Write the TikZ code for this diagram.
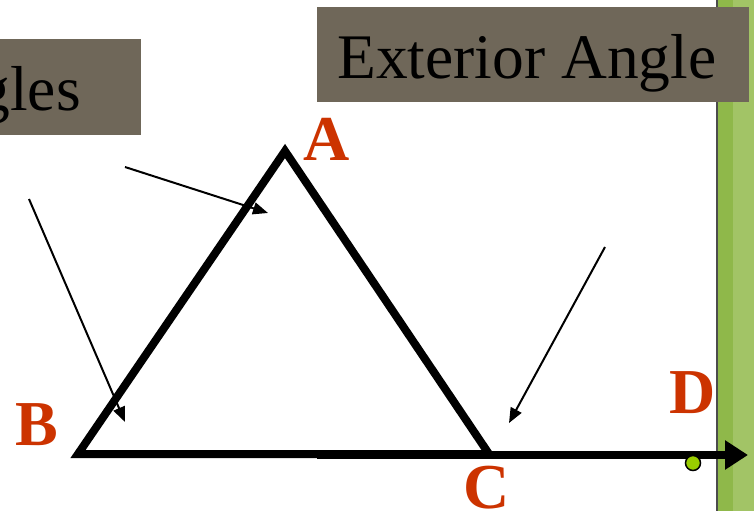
\documentclass[tikz,border=0pt]{standalone}
\usepackage{fontspec}
\setmainfont{Liberation Serif}
\usetikzlibrary{arrows.meta}
\definecolor{boxbrown}{HTML}{6F6759}
\definecolor{labred}{HTML}{CC3300}
\definecolor{bardark}{HTML}{8FB84A}
\definecolor{barlight}{HTML}{A2C466}
\definecolor{dotgreen}{HTML}{99CC00}
\tikzset{
  titlebox/.style={fill=boxbrown, draw=none},
  titletext/.style={inner sep=0pt, font=\fontsize{63.5}{70}\selectfont, text=black},
  vlabel/.style={inner sep=0pt, font=\fontsize{64}{70}\selectfont\bfseries, text=labred},
  pointer/.style={line width=2pt, -{Triangle[length=15pt,width=12pt]}},
  side/.style={line width=8pt, line join=miter},
  ray/.style={line width=8pt, -{Triangle[length=23pt,width=28pt]}}
}
\begin{document}
\begin{tikzpicture}[x=1pt,y=-1pt]
\useasboundingbox (0,0) rectangle (754,511);
\fill[white] (0,0) rectangle (754,511);
% green side bar
\fill[barlight] (717,0) rectangle (754,511);
\fill[bardark] (717,0) rectangle (733,511);
\draw[line width=1.5pt, black!70] (717,0) -- (717,511);
% title boxes
\fill[titlebox] (0,39) rectangle (141,135);
\node[titletext, anchor=base east] (gles) at (81,110) {gles};
\fill[titlebox] (317,7) rectangle (749,102);
\node[titletext, anchor=base west] (ext) at (337,78) {Exterior Angle};
% triangle vertices
\coordinate (A) at (285,151);
\coordinate (B) at (78,454);
\coordinate (C) at (489,454);
\coordinate (Cray) at (317,455);
\coordinate (D) at (748,455);
\draw[ray] (Cray) -- (D);
\draw[side] (A) -- (B) -- (C) -- cycle;
% pointer arrows
\coordinate (p1s) at (125,167); \coordinate (p1e) at (268,213);
\coordinate (p2s) at (29,199);  \coordinate (p2e) at (125,422);
\coordinate (p3s) at (605,247); \coordinate (p3e) at (509,423);
\draw[pointer] (p1s) -- (p1e);
\draw[pointer] (p2s) -- (p2e);
\draw[pointer] (p3s) -- (p3e);
% point on ray
\node[circle, fill=dotgreen, draw=black, line width=1.5pt, minimum size=15pt, inner sep=0pt] (dot) at (693,463) {};
% vertex labels
\node[vlabel] (lA) at (327,139) {A};
\node[vlabel] (lB) at (37,425) {B};
\node[vlabel] (lC) at (487,488) {C};
\node[vlabel] (lD) at (693,393) {D};
\end{tikzpicture}
\end{document}
